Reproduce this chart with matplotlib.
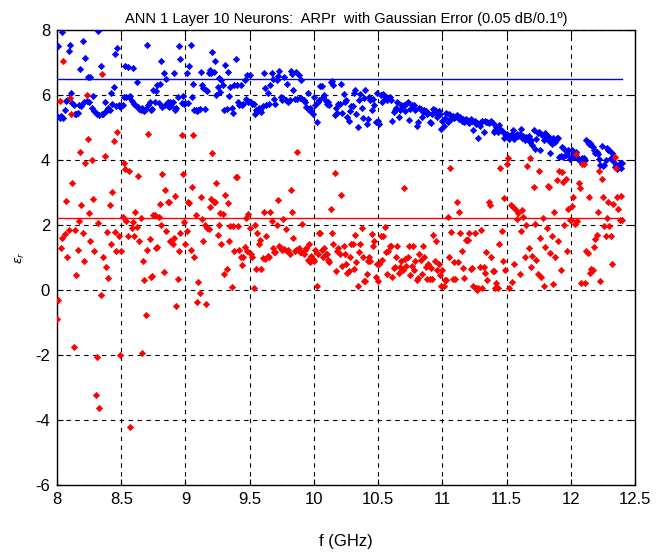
import numpy as np
import matplotlib
matplotlib.use('Agg')
import matplotlib.pyplot as plt

plt.rcParams['font.family'] = ['Liberation Sans', 'DejaVu Sans']
plt.rcParams['axes.unicode_minus'] = False

# frequency sweep (GHz), one point per 10 MHz
f_start = 8.0
f_stop = 12.4

# reference values (horizontal lines)
blue_ref = 6.5
red_ref = 2.2

# estimated values, blue series (rows of 0.1 GHz)
blue_vals = [
    5.35, 7.5, 5.3, 5.35, 7.95, 5.3, 5.55, 5.8, 5.85, 7.35,
    7.55, 6.05, 5.75, 5.7, 5.4, 5.42, 5.45, 5.68, 6.8, 5.65,
    7.65, 5.78, 7.15, 5.8, 6.55, 5.78, 6.55, 5.6, 5.98, 5.5,
    5.45, 5.4, 7.98, 5.38, 6.9, 5.42, 5.4, 5.78, 5.5, 5.55,
    5.6, 5.55, 6.05, 5.72, 6.25, 7.25, 5.65, 7.45, 5.68, 5.62,
    5.65, 5.7, 5.95, 6.9, 5.92, 6.85, 5.95, 5.98, 5.82, 6.82,
    5.72, 5.68, 6.4, 5.62, 5.58, 5.52, 5.6, 5.55, 5.5, 5.58,
    7.53, 5.68, 5.78, 5.55, 5.58, 6.14, 5.78, 6.12, 6.3, 5.75,
    6.35, 7.05, 5.62, 6.68, 5.7, 6.5, 5.78, 5.62, 5.78, 5.65,
    5.78, 6.68, 5.55, 5.6, 5.93, 7.5, 7.12, 5.75, 5.96, 5.72,
    5.75, 6.66, 5.75, 6.88, 7.53, 5.95, 6.35, 5.55, 5.52, 5.5,
    5.54, 5.57, 6.71, 6.3, 6.2, 5.57, 6.15, 6.12, 6.66, 6.76,
    6.66, 7.32, 6.71, 7.05, 6.0, 6.25, 6.53, 6.1, 6.45, 6.3,
    5.54, 6.92, 5.57, 6.71, 5.96, 6.25, 5.6, 5.44, 6.3, 7.1,
    6.3, 5.78, 5.68, 6.3, 5.7, 5.73, 6.47, 5.88, 6.6, 5.78,
    6.6, 5.78, 5.73, 5.72, 5.4, 5.53, 5.5, 5.6, 5.55, 5.47,
    5.65, 6.66, 6.2, 5.68, 6.06, 5.73, 6.29, 6.66, 6.5, 5.88,
    5.73, 6.45, 6.57, 6.73, 5.94, 5.85, 5.91, 6.55, 5.85, 6.35,
    5.78, 5.83, 6.73, 6.63, 6.16, 5.88, 6.7, 5.88, 6.6, 5.9,
    6.45, 5.88, 5.83, 5.78, 5.62, 6.06, 5.52, 5.6, 5.5, 5.42,
    5.94, 5.7, 5.16, 5.78, 5.85, 6.27, 6.27, 5.94, 6.0, 5.8,
    5.73, 5.78, 5.68, 6.4, 6.43, 6.29, 5.37, 5.6, 5.45, 5.73,
    5.73, 6.35, 5.44, 6.04, 5.78, 5.83, 5.32, 5.21, 5.5, 5.65,
    5.65, 6.06, 6.14, 5.4, 5.02, 5.85, 6.04, 5.6, 5.3, 5.9,
    6.14, 5.1, 5.27, 5.94, 5.83, 5.52, 5.88, 5.68, 5.16, 6.06,
    5.21, 5.1, 5.99, 5.78, 6.04, 5.88, 5.94, 5.83, 5.9, 5.95,
    5.83, 5.2, 5.47, 5.52, 5.6, 5.78, 5.32, 5.52, 5.7, 5.65,
    5.68, 5.5, 5.73, 5.78, 5.24, 5.57, 5.68, 5.62, 5.7, 5.55,
    5.05, 5.16, 5.6, 5.57, 5.32, 5.47, 5.55, 5.5, 5.4, 5.45,
    5.16, 5.12, 5.42, 5.57, 5.52, 5.45, 5.32, 5.5, 5.4, 4.95,
    5.21, 5.05, 5.3, 5.44, 5.16, 5.42, 5.37, 5.27, 5.35, 5.3,
    5.32, 5.37, 5.33, 5.27, 5.32, 5.21, 5.25, 5.16, 5.27, 5.2,
    5.21, 5.15, 5.27, 5.2, 4.91, 5.21, 5.1, 5.15, 4.68, 5.05,
    5.16, 5.19, 4.86, 5.2, 5.16, 5.16, 5.14, 5.16, 5.19, 5.13,
    4.86, 4.93, 5.0, 4.86, 5.06, 4.96, 4.9, 4.86, 4.68, 4.8,
    4.8, 4.72, 4.65, 4.75, 4.8, 4.91, 4.65, 4.75, 4.8, 4.72,
    4.8, 4.96, 4.68, 4.75, 4.62, 4.7, 4.68, 4.72, 4.55, 4.6,
    4.45, 4.91, 4.34, 4.65, 4.83, 4.86, 4.29, 4.8, 4.75, 4.6,
    4.83, 4.7, 4.75, 4.58, 4.2, 4.5, 4.68, 4.6, 4.55, 4.68,
    4.68, 4.1, 4.12, 4.4, 4.08, 4.34, 4.14, 4.2, 4.31, 4.03,
    4.08, 4.29, 4.16, 4.1, 4.24, 4.06, 4.03, 3.96, 4.0, 4.05,
    4.06, 4.0, 4.6, 4.55, 4.5, 4.52, 4.45, 4.39, 4.29, 4.2,
    4.24, 4.18, 4.03, 3.83, 4.44, 3.8, 3.83, 4.0, 4.35, 4.3,
    4.31, 4.06, 4.2, 3.95, 3.79, 3.85, 3.73, 3.8, 3.9, 3.75,
    3.9,
]

# estimated values, red series (rows of 0.1 GHz)
red_vals = [
    -0.9, -0.3, 5.81, 1.3, 1.6, 7.05, 1.71, 2.74, 1.0, 1.85,
    5.9, 5.4, 3.29, -1.76, 1.84, 0.47, 1.23, 2.13, 4.24, 2.6,
    1.75, 0.9, 3.9, 6.0, 4.65, 2.36, 1.5, 4.0, 2.8, 1.2,
    -3.24, -2.06, 2.05, -3.65, -0.15, 6.63, 1.0, 4.13, 0.7, 1.77,
    0.36, 2.6, 1.41, 3.0, 4.57, 1.77, 1.2, 4.85, 1.66, -2.0,
    1.2, 2.25, 3.9, 3.72, 2.13, 1.66, 3.65, -4.23, 1.9, 2.1,
    1.66, 2.4, 1.92, 3.5, 1.51, 2.2, -1.93, 0.9, 0.3, -0.77,
    1.23, 4.8, 1.56, 0.4, 0.43, 2.31, 2.3, 1.3, 1.33, 2.23,
    2.64, 2.0, 3.55, 0.56, 3.07, 1.8, 2.7, 2.69, 1.49, 1.46,
    1.41, 1.6, 2.9, -0.49, 0.33, 1.2, 1.74, 4.78, 3.55, 2.1,
    1.41, 1.82, 2.7, 2.66, 1.22, 3.17, 4.78, 1.0, 2.31, -0.39,
    0.23, -0.1, 2.85, 2.18, 1.5, 2.0, -0.45, 1.9, 1.87, 2.56,
    2.8, 4.2, 2.69, 2.7, 3.28, 1.7, 2.0, 2.36, 1.4, 2.33,
    0.5, 2.93, 0.63, 2.66, 1.49, 1.97, 0.1, 1.97, 1.2, 3.46,
    3.46, 1.97, 1.22, 1.0, 0.75, 1.0, 1.33, 2.21, 1.18, 2.33,
    1.9, 1.1, 1.02, 0.05, 2.0, 0.63, 1.74, 1.4, 1.53, 0.64,
    0.98, 2.39, 0.95, 1.66, 1.04, 1.0, 2.39, 2.13, 1.3, 1.15,
    1.15, 2.0, 2.77, 1.35, 1.3, 1.22, 2.18, 1.26, 1.87, 1.2,
    1.22, 1.1, 3.08, 2.39, 1.59, 1.2, 1.22, 4.24, 1.3, 1.15,
    1.15, 2.04, 1.1, 1.22, 1.28, 0.92, 1.4, 0.85, 1.05, 0.95,
    0.9, 1.22, 0.12, 1.1, 1.74, 1.74, 1.22, 1.0, 1.3, 1.1,
    1.1, 0.92, 0.85, 2.48, 1.74, 1.4, 3.59, 0.57, 1.2, 1.3,
    1.1, 2.93, 0.74, 1.35, 1.1, 0.79, 0.53, 0.57, 1.0, 1.4,
    1.4, 0.64, 1.69, 0.85, 0.12, 1.15, 1.4, 1.91, 1.0, 0.27,
    0.27, 0.5, 0.88, 1.0, 0.9, 1.72, 1.35, 1.51, 0.38, 0.79,
    0.27, 0.79, 1.67, 0.92, 1.67, 1.94, 1.15, 0.5, 1.2, 1.35,
    1.35, 0.38, 0.67, 0.7, 1.0, 1.35, 0.53, 0.7, 0.9, 0.6,
    3.14, 0.95, 0.74, 1.0, 1.35, 0.46, 0.74, 1.35, 0.6, 0.9,
    0.3, 0.36, 1.1, 0.92, 0.5, 1.35, 1.02, 0.7, 0.33, 0.8,
    0.33, 0.67, 0.33, 1.7, 0.9, 1.51, 0.6, 0.8, 0.45, 0.12,
    0.6, 0.12, 0.3, 0.3, 2.23, 1.0, 3.76, 1.77, 0.33, 0.85,
    0.33, 2.7, 0.85, 2.39, 1.74, 1.2, 0.67, 0.36, 1.53, 1.53,
    1.53, 1.74, 0.64, 0.67, 0.12, 1.74, 0.05, -0.02, 0.07, 0.69,
    1.84, 0.07, 0.69, 0.53, 1.15, 0.3, 2.7, 2.62, 1.0, 0.57,
    0.57, 0.07, 0.2, 0.07, 1.4, 3.76, 1.82, 0.9, 2.83, 0.6,
    3.88, 4.06, 0.07, 2.62, 0.23, 2.54, 0.8, 2.46, 2.18, 2.36,
    0.5, 1.82, 2.46, 2.23, 1.0, 2.0, 3.82, 1.3, 4.06, 0.7,
    1.05, 3.18, 2.02, 0.92, 0.5, 3.67, 1.6, 0.4, 2.2, 0.12,
    1.31, 1.9, 3.2, 3.16, 1.12, 1.67, 0.18, 2.4, 1.0, 3.38,
    1.49, 3.67, 0.6, 3.62, 3.31, 2.0, 3.42, 1.2, 2.5, 2.15,
    2.15, 2.59, 2.85, 2.04, 4.18, 2.13, 3.28, 3.13, 0.2, 3.88,
    3.88, 0.2, 1.2, 1.12, 2.87, 0.53, 0.64, 0.6, 1.32, 1.56,
    1.69, 2.39, 3.67, 0.27, 3.42, 2.87, 1.97, 1.67, 2.2, 2.7,
    1.97, 1.67, 0.79, 2.64, 4.1, 3.76, 2.85, 2.5, 2.15, 2.9,
    2.15,
]

x_ticks = [8, 8.5, 9, 9.5, 10, 10.5, 11, 11.5, 12, 12.5]
x_ticklabels = ['8', '8.5', '9', '9.5', '10', '10.5', '11', '11.5', '12', '12.5']
y_ticks = [-6, -4, -2, 0, 2, 4, 6, 8]

freq = np.linspace(f_start, f_stop, len(blue_vals))

fig = plt.figure(figsize=(6.63, 5.54), dpi=100)
ax = fig.add_axes([0.086, 0.125, 0.872, 0.821])

ax.plot(freq, blue_vals, 'D', color='b', ms=3.2, mew=0.5, zorder=3)
ax.plot(freq, red_vals, 'D', color='r', ms=3.2, mew=0.5, zorder=3)
ax.plot([f_start, f_stop], [blue_ref, blue_ref], '-', color='b', lw=1.0, zorder=2)
ax.plot([f_start, f_stop], [red_ref, red_ref], '-', color='r', lw=1.0, zorder=2)

ax.set_xlim(8, 12.5)
ax.set_ylim(-6, 8)
ax.set_xticks(x_ticks)
ax.set_xticklabels(x_ticklabels)
ax.set_yticks(y_ticks)
ax.tick_params(direction='in', length=4, width=0.8, labelsize=12,
               top=True, right=True, pad=5)
ax.grid(True, color='k', ls=(0, (4, 4)), lw=0.8)
ax.set_axisbelow(True)
for s in ax.spines.values():
    s.set_linewidth(1.0)

ax.set_title('ANN 1 Layer 10 Neurons:  ARPr  with Gaussian Error (0.05 dB/0.1\u00ba)',
             fontsize=10.5, pad=5)
ax.set_xlabel('f (GHz)', fontsize=12, labelpad=20)
ax.set_ylabel(r'$\epsilon_r$', fontsize=9, labelpad=6)

fig.savefig('out.png', dpi=100)
